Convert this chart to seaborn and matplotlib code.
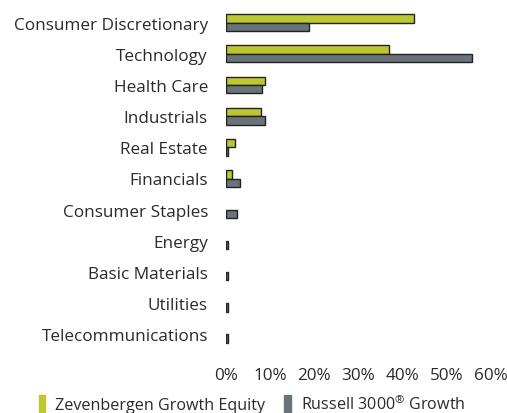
import numpy as np
import pandas as pd
import matplotlib
matplotlib.use('Agg')
import matplotlib.pyplot as plt
import matplotlib.ticker as mtick
import seaborn as sns

#::: data
sectors = ['Consumer Discretionary', 'Technology', 'Health Care', 'Industrials', 'Real Estate',
           'Financials', 'Consumer Staples', 'Energy', 'Basic Materials', 'Utilities',
           'Telecommunications']
zevenbergen = [42.5, 37.0, 8.8, 7.9, 2.0, 1.4, 0.0, 0.0, 0.0, 0.0, 0.0]
russell = [18.7, 55.7, 8.1, 8.8, 0.5, 3.2, 2.6, 0.5, 0.5, 0.5, 0.4]
series = ['Zevenbergen Growth Equity', 'Russell 3000$^{®}$ Growth']
xticks = [0, 10, 20, 30, 40, 50, 60]

df = pd.DataFrame({
    'sector': sectors * 2,
    'value': zevenbergen + russell,
    'fund': [series[0]] * len(sectors) + [series[1]] * len(sectors),
})

#::: plotting settings
sns.set_theme(style='white')
plt.rcParams['font.family'] = ['Open Sans', 'DejaVu Sans']
plt.rcParams['mathtext.fontset'] = 'custom'
plt.rcParams['mathtext.rm'] = 'Open Sans'
palette = {series[0]: '#BDC82A', series[1]: '#687479'}
FS = 12.3
TXT = '#2a2a2a'

fig = plt.figure(figsize=(5.07, 4.14), dpi=100)
ax = fig.add_axes([226 / 507, 1 - 351 / 414, (491 - 226) / 507, (351 - 8) / 414])

sns.barplot(data=df, y='sector', x='value', hue='fund', order=sectors, hue_order=series,
            palette=palette, orient='h', width=0.54, edgecolor='#222222', linewidth=1.0,
            saturation=1, ax=ax)

# hide empty bars (no outline stub for 0%)
for p in ax.patches:
    if p.get_width() == 0:
        p.set_visible(False)

ax.set_xlim(0, 60)
ax.set_ylim(10.5, -0.5)
ax.set_xticks(xticks)
ax.xaxis.set_major_formatter(mtick.FuncFormatter(lambda v, p: f'{v:.0f}%'))
ax.set_xlabel('')
ax.set_ylabel('')
ax.tick_params(axis='both', length=0, labelsize=FS, colors=TXT)
ax.tick_params(axis='x', pad=12)
ax.tick_params(axis='y', pad=13)
for s in ax.spines.values():
    s.set_visible(False)

ax.legend_.remove()
handles = [plt.Rectangle((0, 0), 1, 1, color=palette[s]) for s in series]
fig.legend(handles, series, loc='lower left', bbox_to_anchor=(24 / 507, -15 / 414), ncol=2,
           frameon=False, fontsize=11.6, handlelength=0.42, handleheight=1.35, handletextpad=0.6,
           columnspacing=1.2, labelcolor=TXT)

plt.savefig('out.png', dpi=100)
